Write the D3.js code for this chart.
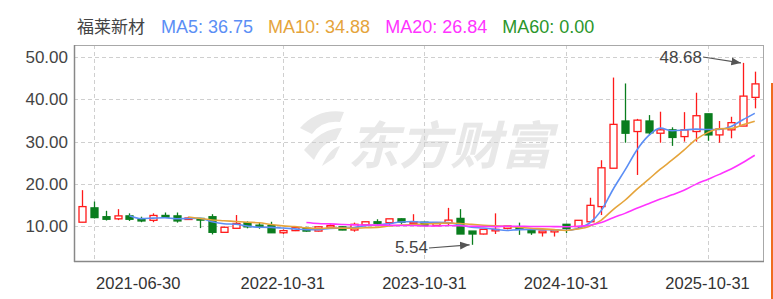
<!DOCTYPE html>
<html>
<head>
<meta charset="utf-8">
<script src="https://cdn.jsdelivr.net/npm/d3@7"></script>
<style>
  body { margin: 0; background: #fff; }
  text { font-family: Arial, "Liberation Sans", sans-serif; }
</style>
</head>
<body>
<div id="chart"></div>
<script>
// monthly candles, 2021-05 .. 2026-02
var months = [
  "2021-05-31","2021-06-30","2021-07-31","2021-08-31","2021-09-30","2021-10-31","2021-11-30","2021-12-31",
  "2022-01-31","2022-02-28","2022-03-31","2022-04-30","2022-05-31","2022-06-30","2022-07-31","2022-08-31","2022-09-30","2022-10-31","2022-11-30","2022-12-31",
  "2023-01-31","2023-02-28","2023-03-31","2023-04-30","2023-05-31","2023-06-30","2023-07-31","2023-08-31","2023-09-30","2023-10-31","2023-11-30","2023-12-31",
  "2024-01-31","2024-02-29","2024-03-31","2024-04-30","2024-05-31","2024-06-30","2024-07-31","2024-08-31","2024-09-30","2024-10-31","2024-11-30","2024-12-31",
  "2025-01-31","2025-02-28","2025-03-31","2025-04-30","2025-05-31","2025-06-30","2025-07-31","2025-08-31","2025-09-30","2025-10-31","2025-11-30","2025-12-31",
  "2026-01-31","2026-02-28"
];
var opens  = [10.9,14.3,12.2,11.7,12.4,11.7,11.35,12.5,12.4,11.7, 11.8,12.2,8.5,9.45,10.8,10.2,10.1,8.4,8.9,9.45,
              8.8,9.7,9.8,9.05,10.25,11.0,10.8,11.7,10.65,10.9, 10.1,10.65,11.8,8.8,8.1,9.05,9.45,9.6,8.9,8.4,
              8.6,10.4,9.85,11.0,14.6,23.7,34.9,32.4,34.9,32.0, 32.8,31.2,32.4,36.6,31.6,32.8,33.7,40.5];
var highs  = [18.5,15.8,13.6,14.0,13.0,12.2,13.0,13.2,13.2,12.2, 11.9,12.8,9.8,12.6,11.1,10.9,11.0,9.2,9.8,9.8,
              9.9,10.4,9.9,10.8,11.0,11.6,11.7,11.8,12.8,11.0, 10.9,14.3,14.0,8.8,9.2,13.0,10.0,10.8,9.2,8.8,
              9.1,10.4,11.4,16.7,25.6,45.2,43.8,35.4,36.3,37.1, 33.4,37.0,41.6,36.6,34.9,35.9,48.68,46.6];
var lows   = [10.9,11.8,11.3,11.4,11.2,10.9,10.9,12.0,10.8,11.5, 9.5,8.0,8.4,9.4,9.45,9.35,8.4,8.1,8.8,8.65,
              8.7,9.45,9.0,8.65,9.9,10.25,10.2,10.5,10.6,10.0, 10.0,10.1,8.1,5.54,8.0,8.1,9.2,7.9,7.9,7.5,
              7.5,8.3,9.5,10.8,12.6,23.7,29.75,22.1,31.6,29.75, 29.0,30.0,30.0,30.2,29.75,30.8,33.7,37.9];
var closes = [14.6,12.0,11.6,12.4,11.6,11.2,12.5,12.1,11.2,11.9, 11.4,8.5,9.7,10.6,9.8,9.85,8.4,8.9,9.6,8.8,
              9.8,10.1,9.05,10.4,11.0,10.65,11.7,10.9,11.0,10.1, 10.8,11.4,8.1,8.1,9.2,9.2,10.0,9.2,8.4,8.8,
              9.05,9.45,11.35,14.9,23.8,34.1,32.0,35.1,32.1,32.8, 31.0,32.8,36.15,31.6,33.0,34.5,40.8,43.7];

var tickDates = ["2021-06-30","2022-10-31","2023-10-31","2024-10-31","2025-10-31"];
var yTicks = [10, 20, 30, 40, 50];
var stockName = "福莱新材";
var maPeriods = [5, 10, 20, 60];
var maLegend = [36.75, 34.88, 26.84, 0.00];

(function() {
  var maColors = ["#5b8ef5", "#e5a43b", "#ff33ff", "#2b962b"];
  var W = 773, H = 299;
  var pl = 74, pr = 763, pt = 45, pb = 261;

  var svg = d3.select("#chart").append("svg")
      .attr("width", W).attr("height", H);

  var x = d3.scaleBand().domain(d3.range(months.length)).range([pl, pr]).padding(0.4);
  var xc = function(i) { return x(i) + x.bandwidth() / 2; };
  var y = d3.scaleLinear().domain([1.7, 52.92]).range([pb, pt]);

  // watermark
  var wm = svg.append("g").attr("fill", "#e8e8e8");
  wm.append("path")
    .attr("d", "M300,128 Q318,108 344,112 L340,122 Q322,120 312,134 Z M304,150 Q322,128 342,128 L336,140 Q322,142 314,160 Z M322,166 Q330,148 340,146 L334,158 Z");
  wm.append("text")
    .attr("x", 348).attr("y", 164)
    .attr("font-size", 51).attr("font-weight", "bold").attr("font-style", "italic")
    .style("font-family", "'Noto Sans CJK SC', sans-serif")
    .text("东方财富");

  // grid
  var grid = svg.append("g").attr("stroke", "#cfcfcf").attr("stroke-dasharray", "4,3").attr("stroke-width", 1);
  grid.selectAll("line.h").data(yTicks).enter().append("line")
    .attr("x1", pl).attr("x2", pr)
    .attr("y1", function(d) { return Math.round(y(d)) + 0.5; })
    .attr("y2", function(d) { return Math.round(y(d)) + 0.5; });
  grid.selectAll("line.v").data(tickDates).enter().append("line")
    .attr("x1", function(d) { return Math.round(xc(months.indexOf(d))) + 0.5; })
    .attr("x2", function(d) { return Math.round(xc(months.indexOf(d))) + 0.5; })
    .attr("y1", pt).attr("y2", pb);

  // candles
  var up = "#ff1a1a", down = "#0a7d1e";
  var isUp = function(i) { return closes[i] >= opens[i]; };
  var candles = svg.append("g").selectAll("g").data(months).enter().append("g");
  candles.append("line")
    .attr("x1", function(d, i) { return Math.round(xc(i)) + 0.5; })
    .attr("x2", function(d, i) { return Math.round(xc(i)) + 0.5; })
    .attr("y1", function(d, i) { return y(highs[i]); })
    .attr("y2", function(d, i) { return y(lows[i]); })
    .attr("stroke", function(d, i) { return isUp(i) ? up : down; })
    .attr("stroke-width", 1.3);
  candles.append("rect")
    .attr("x", function(d, i) { return Math.round(xc(i)) - 3; })
    .attr("width", 7)
    .attr("y", function(d, i) { return y(Math.max(opens[i], closes[i])); })
    .attr("height", function(d, i) { return Math.max(1.5, Math.abs(y(opens[i]) - y(closes[i]))); })
    .attr("fill", function(d, i) { return isUp(i) ? "#fff" : down; })
    .attr("stroke", function(d, i) { return isUp(i) ? up : down; })
    .attr("stroke-width", 1.3);

  // moving averages
  function movingAvg(n) {
    return closes.map(function(c, i) {
      if (i < n - 1) return null;
      return d3.mean(closes.slice(i - n + 1, i + 1));
    });
  }
  var line = d3.line()
    .defined(function(d) { return d != null; })
    .x(function(d, i) { return xc(i); })
    .y(function(d) { return y(d); })
    .curve(d3.curveMonotoneX);
  maPeriods.slice(0, 3).forEach(function(n, k) {
    svg.append("path")
      .datum(movingAvg(n))
      .attr("fill", "none")
      .attr("stroke", maColors[k])
      .attr("stroke-width", 1.6)
      .attr("d", line);
  });

  // frame
  svg.append("rect")
    .attr("x", pl + 0.5).attr("y", pt + 0.5)
    .attr("width", pr - pl).attr("height", pb - pt)
    .attr("fill", "none").attr("stroke", "#a8a8a8").attr("stroke-width", 1);
  svg.append("line")
    .attr("x1", pl + 0.5).attr("x2", pl + 0.5).attr("y1", pt).attr("y2", pb + 1)
    .attr("stroke", "#888").attr("stroke-width", 1.5);
  svg.append("line")
    .attr("x1", pl).attr("x2", pr + 1).attr("y1", pb + 0.5).attr("y2", pb + 0.5)
    .attr("stroke", "#888").attr("stroke-width", 1.5);

  // axis labels
  svg.append("g").selectAll("text").data(yTicks).enter().append("text")
    .attr("x", 68).attr("y", function(d) { return y(d) + 6; })
    .attr("text-anchor", "end").attr("font-size", 17).attr("fill", "#444")
    .text(function(d) { return d3.format(".2f")(d); });
  // first date label starts at its grid line, the rest are centred
  svg.append("g").selectAll("text").data(tickDates).enter().append("text")
    .attr("x", function(d, i) { return xc(months.indexOf(d)) + (i === 0 ? 2 : 0); })
    .attr("y", 289)
    .attr("text-anchor", function(d, i) { return i === 0 ? "start" : "middle"; })
    .attr("font-size", 16.5).attr("fill", "#333")
    .text(function(d) { return d; });

  // max / min annotations
  svg.append("defs").append("marker")
    .attr("id", "arr").attr("viewBox", "0 0 10 10").attr("refX", 10).attr("refY", 5)
    .attr("markerWidth", 8).attr("markerHeight", 8).attr("orient", "auto")
    .append("path").attr("d", "M0,1 L10,5 L0,9 Z").attr("fill", "#555");
  var iMax = d3.maxIndex(highs), iMin = d3.minIndex(lows);
  svg.append("text").attr("x", 702).attr("y", 63).attr("text-anchor", "end")
    .attr("font-size", 17).attr("fill", "#444").text(d3.format(".2f")(highs[iMax]));
  svg.append("line").attr("x1", 703).attr("y1", 57).attr("x2", xc(iMax) - 2).attr("y2", y(highs[iMax]))
    .attr("stroke", "#555").attr("stroke-width", 1.2).attr("marker-end", "url(#arr)");
  svg.append("text").attr("x", 428).attr("y", 253).attr("text-anchor", "end")
    .attr("font-size", 17).attr("fill", "#444").text(d3.format(".2f")(lows[iMin]));
  svg.append("line").attr("x1", 429).attr("y1", 248).attr("x2", xc(iMin) - 2).attr("y2", y(lows[iMin]))
    .attr("stroke", "#555").attr("stroke-width", 1.2).attr("marker-end", "url(#arr)");

  // legend
  var lg = svg.append("text").attr("x", 77).attr("y", 33).attr("font-size", 18);
  lg.append("tspan").attr("fill", "#444")
    .style("font-family", "'Noto Sans CJK SC', sans-serif").attr("font-size", 17)
    .text(stockName);
  maPeriods.forEach(function(n, k) {
    lg.append("tspan").attr("dx", k === 0 ? 16 : 15).attr("fill", maColors[k])
      .text("MA" + n + ": " + d3.format(".2f")(maLegend[k]));
  });

  // right edge widget strip
  svg.append("rect").attr("x", 771).attr("y", 83).attr("width", 2).attr("height", H - 83).attr("fill", "#ef6b1f");
})();
</script>
</body>
</html>
